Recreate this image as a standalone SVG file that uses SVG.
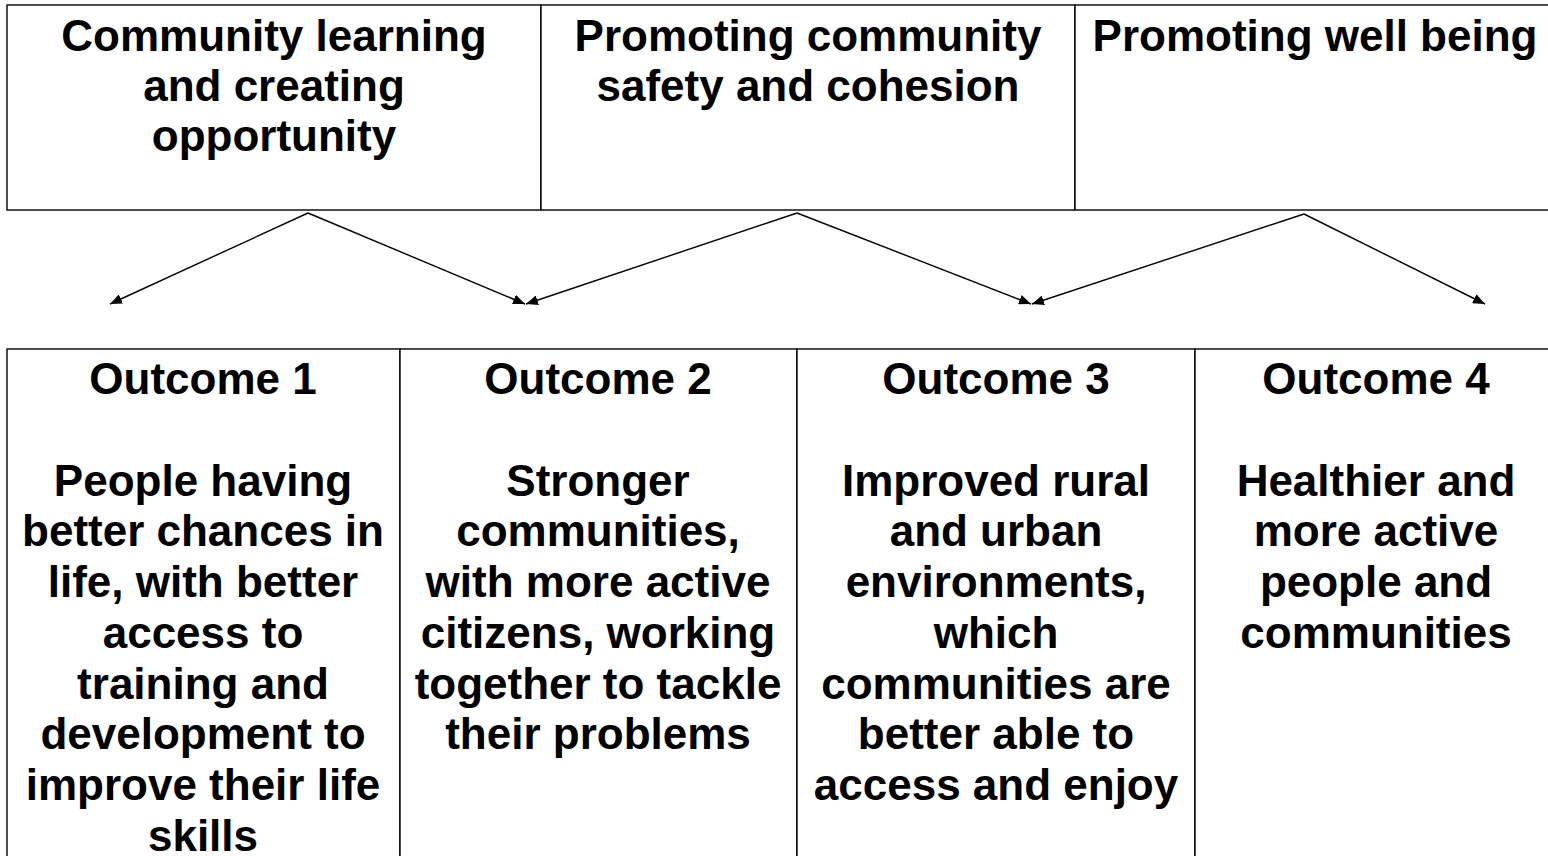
<svg xmlns="http://www.w3.org/2000/svg" width="1548" height="856" viewBox="0 0 1548 856">
<style>
.cell{fill:#fff;stroke:#000;stroke-width:1.4}
.t{font-family:"Liberation Sans",Arial,sans-serif;font-weight:bold;font-size:44px;fill:#000;text-anchor:middle}
.c{stroke:#000;stroke-width:1.4;fill:none;marker-end:url(#ah)}
</style>
<defs>
<marker id="ah" viewBox="0 0 12 10" refX="12" refY="5" markerWidth="12" markerHeight="10" markerUnits="userSpaceOnUse" orient="auto">
<path d="M0,0 L12,5 L0,10 Z" fill="#000"/>
</marker>
</defs>
<g id="theme1">
<rect class="cell" x="7" y="5" width="534" height="205"/>
<text class="t" x="274" y="51">Community learning</text>
<text class="t" x="274" y="101">and creating</text>
<text class="t" x="274" y="151">opportunity</text>
</g>
<g id="theme2">
<rect class="cell" x="541" y="5" width="534" height="205"/>
<text class="t" x="808" y="51">Promoting community</text>
<text class="t" x="808" y="101">safety and cohesion</text>
</g>
<g id="theme3">
<rect class="cell" x="1075" y="5" width="490" height="205"/>
<text class="t" x="1315" y="51">Promoting well being</text>
</g>
<g id="outcome1">
<rect class="cell" x="7" y="349" width="393" height="520"/>
<text class="t" x="203" y="394">Outcome 1</text>
<text class="t" x="203" y="496">People having</text>
<text class="t" x="203" y="546">better chances in</text>
<text class="t" x="203" y="597">life, with better</text>
<text class="t" x="203" y="648">access to</text>
<text class="t" x="203" y="699">training and</text>
<text class="t" x="203" y="749">development to</text>
<text class="t" x="203" y="800">improve their life</text>
<text class="t" x="203" y="851">skills</text>
</g>
<g id="outcome2">
<rect class="cell" x="400" y="349" width="397" height="520"/>
<text class="t" x="598" y="394">Outcome 2</text>
<text class="t" x="598" y="496">Stronger</text>
<text class="t" x="598" y="546">communities,</text>
<text class="t" x="598" y="597">with more active</text>
<text class="t" x="598" y="648">citizens, working</text>
<text class="t" x="598" y="699">together to tackle</text>
<text class="t" x="598" y="749">their problems</text>
</g>
<g id="outcome3">
<rect class="cell" x="797" y="349" width="398" height="520"/>
<text class="t" x="996" y="394">Outcome 3</text>
<text class="t" x="996" y="496">Improved rural</text>
<text class="t" x="996" y="546">and urban</text>
<text class="t" x="996" y="597">environments,</text>
<text class="t" x="996" y="648">which</text>
<text class="t" x="996" y="699">communities are</text>
<text class="t" x="996" y="749">better able to</text>
<text class="t" x="996" y="800">access and enjoy</text>
</g>
<g id="outcome4">
<rect class="cell" x="1195" y="349" width="370" height="520"/>
<text class="t" x="1376" y="394">Outcome 4</text>
<text class="t" x="1376" y="496">Healthier and</text>
<text class="t" x="1376" y="546">more active</text>
<text class="t" x="1376" y="597">people and</text>
<text class="t" x="1376" y="648">communities</text>
</g>
<g id="connectors">
<line class="c" x1="308" y1="213" x2="110" y2="304"/>
<line class="c" x1="308" y1="213" x2="525" y2="304"/>
<line class="c" x1="797" y1="213" x2="526" y2="304"/>
<line class="c" x1="797" y1="213" x2="1031" y2="304"/>
<line class="c" x1="1304" y1="214" x2="1032" y2="304"/>
<line class="c" x1="1304" y1="214" x2="1485" y2="304"/>
</g>
</svg>
